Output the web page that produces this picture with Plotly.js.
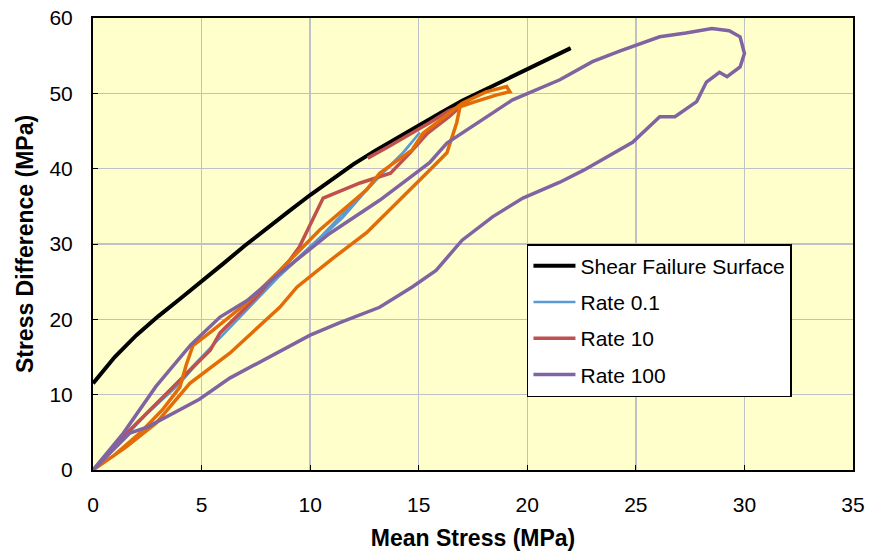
<!DOCTYPE html>
<html>
<head>
<meta charset="utf-8">
<script src="https://cdn.plot.ly/plotly-3.0.1.min.js"></script>
<style>html,body{margin:0;padding:0;background:#fff;}#chart{width:870px;height:552px;}</style>
</head>
<body>
<div id="chart"></div>
<script>
// Shear failure surface
const shearX = [0, 1, 2, 3, 4, 5, 6, 7, 8, 9, 10, 11, 12, 13, 14, 15, 16, 17, 18, 19, 20, 21, 22];
const shearY = [11.5, 15, 17.9, 20.4, 22.7, 25, 27.4, 29.8, 32.1, 34.3, 36.5, 38.6, 40.6, 42.4, 44.1, 45.8, 47.4, 49, 50.4, 51.8, 53.2, 54.6, 56];

// Rate 0.1
const rate01X = [0, 1.5, 2.5, 4, 5.5, 7, 8.5, 10, 11.5, 12.5, 13.6, 14.4, 15.05, 14.6, 14, 13, 12, 10.5, 9, 7.5, 6, 4.5, 3, 1.5, 0];
const rate01Y = [0, 4.5, 7.5, 11.5, 16.5, 21, 25.5, 29.5, 33.5, 36.8, 40.2, 42.5, 44.8, 43.2, 41.2, 38.5, 35.5, 31, 27, 22.5, 18, 13.5, 9, 4.5, 0];

// Rate 10
const rate10X = [0, 1.7, 4, 5.4, 5.85, 7.4, 9.07, 9.5, 10.6, 12.3, 13.7, 14.6, 15.4, 16.4, 16.9, 16.4, 15.5, 14.5, 13.6, 12.65];
const rate10Y = [0, 5.3, 11.9, 15.9, 18.2, 22.6, 27.9, 29.6, 36.1, 38.1, 39.4, 42.1, 44.7, 46.9, 48.2, 47.7, 46.1, 44.4, 42.9, 41.4];

// Unlabelled orange series
const orangeX = [0, 1, 2.2, 3.2, 4, 4.3, 4.6, 5.5, 7, 8.47, 10.45, 12.6, 13.2, 14.7, 15.2, 17, 18.1, 19.05, 19.2, 18.6, 17.5, 16.9, 16.75, 16.3, 15.5, 14.1, 12.6, 11, 9.4, 8.6, 6.3, 4.46, 2.9, 1.5, 0];
const orangeY = [0, 2, 5, 8, 11, 14, 16.5, 18.5, 22, 26.1, 31.9, 37.2, 39.4, 42.5, 44.7, 48.7, 50.2, 50.9, 50.2, 49.8, 48.8, 48.2, 46.1, 42.1, 39.8, 35.8, 31.5, 28, 24.3, 21.6, 15.5, 11.5, 6.2, 3, 0];

// Rate 100
const rate100X = [0, 1.4, 2.9, 4.5, 5.85, 7.1, 8.6, 10.9, 13.2, 15.5, 16.3, 19.3, 21.5, 22.4, 23.0, 24.25, 24.85, 26.1, 27.3, 28.5, 29.3, 29.8, 30.0, 29.8, 29.2, 28.85, 28.25, 27.8, 26.8, 26.1, 24.85, 22.6, 21.5, 19.8, 18.4, 17.0, 15.8, 14.7, 13.2, 11.4, 10, 8.1, 6.3, 4.9, 2.5, 1.7, 0];
const rate100Y = [0, 4.9, 11.1, 16.6, 20.3, 22.5, 26.1, 31.4, 35.8, 40.8, 43.4, 49.1, 51.8, 53.2, 54.2, 55.6, 56.2, 57.5, 58.0, 58.6, 58.3, 57.5, 55.3, 53.5, 52.2, 52.8, 51.5, 48.9, 46.9, 46.9, 43.5, 39.8, 38.2, 36.1, 33.6, 30.5, 26.5, 24.3, 21.6, 19.6, 17.9, 15, 12.2, 9.4, 5.7, 4.9, 0];

const traces = [
  {x: shearX, y: shearY, name: 'Shear Failure Surface', mode: 'lines', line: {color: '#000000', width: 4}, legendgroup: 'a'},
  {x: rate01X, y: rate01Y, name: 'Rate 0.1', mode: 'lines', line: {color: '#5B9BD5', width: 2.5}, legendgroup: 'b'},
  {x: rate10X, y: rate10Y, name: 'Rate 10', mode: 'lines', line: {color: '#C0504D', width: 3.5}, legendgroup: 'c'},
  {x: orangeX, y: orangeY, name: 'Rate 1', mode: 'lines', line: {color: '#E36C09', width: 3.5}, showlegend: false, legendgroup: 'e'},
  {x: rate100X, y: rate100Y, name: 'Rate 100', mode: 'lines', line: {color: '#8064A2', width: 3.5}, legendgroup: 'd'}
];

const FONT = 'Liberation Sans, Arial, sans-serif';
const axisFont = {family: FONT, size: 21, color: '#000'};
const layout = {
  width: 870, height: 552,
  margin: {l: 93, r: 17, t: 18, b: 82},
  paper_bgcolor: '#ffffff',
  plot_bgcolor: '#FFFFCC',
  font: {family: FONT, color: '#000'},
  xaxis: {
    range: [0, 35], dtick: 5, tick0: 0,
    showgrid: true, gridcolor: '#C0C0C8', gridwidth: 1.5,
    zeroline: false, showline: true, linecolor: '#000', linewidth: 2, mirror: true,
    ticks: 'inside', ticklen: 5, tickcolor: '#000',
    tickfont: axisFont, ticklabelstandoff: 15,
    title: {text: '<b>Mean Stress (MPa)</b>', font: {family: FONT, size: 23, color: '#000'}, standoff: 15}
  },
  yaxis: {
    range: [0, 60], dtick: 10, tick0: 0,
    showgrid: true, gridcolor: '#C0C0C8', gridwidth: 1.5,
    zeroline: false, showline: true, linecolor: '#000', linewidth: 2, mirror: true,
    ticks: 'inside', ticklen: 5, tickcolor: '#000',
    tickfont: axisFont, ticklabelstandoff: 14,
    title: {text: '<b>Stress Difference (MPa)</b>', font: {family: FONT, size: 23, color: '#000'}, standoff: 9}
  },
  legend: {
    x: 0.571, y: 0.5, xanchor: 'left', yanchor: 'top',
    bgcolor: '#ffffff', bordercolor: '#000', borderwidth: 1.5,
    font: {family: FONT, size: 21, color: '#000'},
    tracegroupgap: 6,
    itemwidth: 42,
    traceorder: 'grouped'
  },
  showlegend: true
};

Plotly.newPlot('chart', traces, layout, {displayModeBar: false, staticPlot: true});
</script>
</body>
</html>
